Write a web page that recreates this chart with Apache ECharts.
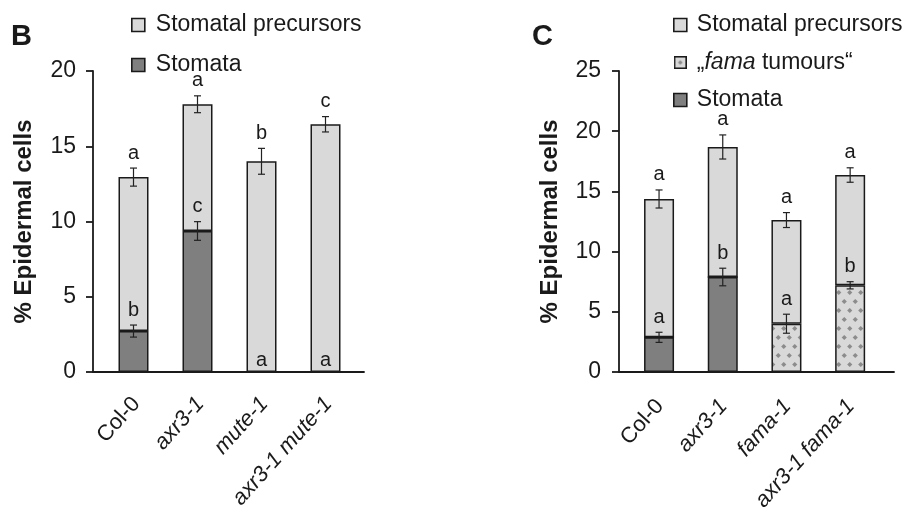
<!DOCTYPE html>
<html>
<head>
<meta charset="utf-8">
<script src="https://cdn.jsdelivr.net/npm/echarts@6/dist/echarts.min.js"></script>
<style>
html,body{margin:0;padding:0;background:#fff;}
#chart{width:914px;height:515px;}
</style>
</head>
<body>
<div id="chart"></div>
<script>
// ---------- data (panel B) ----------
const leftCats = ['Col-0', 'axr3-1', 'mute-1', 'axr3-1 mute-1'];
const leftItalic = [false, true, true, true];
const leftStomata = [2.72, 9.37, 0, 0];
const leftPrecursors = [10.23, 8.42, 14.0, 16.46];
const leftStomataErr = [0.4, 0.62, 0, 0];
const leftTotalErr = [0.6, 0.56, 0.86, 0.51];
const leftStomataLetters = ['b', 'c', 'a', 'a'];
const leftTotalLetters = ['a', 'a', 'b', 'c'];
const leftTicks = [0, 20, 5];

// ---------- data (panel C) ----------
const rightCats = ['Col-0', 'axr3-1', 'fama-1', 'axr3-1 fama-1'];
const rightItalic = [false, true, true, true];
const rightStomata = [2.88, 7.89, 0, 0];
const rightTumours = [0, 0, 4.01, 7.2];
const rightPrecursors = [11.49, 10.8, 8.61, 9.16];
const rightBottomErr = [0.42, 0.73, 0.79, 0.3];
const rightTotalErr = [0.75, 1.0, 0.62, 0.6];
const rightBottomLetters = ['a', 'b', 'a', 'b'];
const rightTotalLetters = ['a', 'a', 'a', 'a'];
const rightTicks = [0, 25, 5];

const seriesNames = {
  prec: 'Stomatal precursors',
  tum: '\u201Efama tumours\u201C',
  sto: 'Stomata'
};

// ---------- styles ----------
const FONT = 'Liberation Sans';
const INK = '#1a1a1a';
const LIGHT = '#d9d9d9';
const DARK = '#7f7f7f';

function makePattern() {
  const c = document.createElement('canvas');
  c.width = 11; c.height = 18;
  const g = c.getContext('2d');
  g.fillStyle = LIGHT; g.fillRect(0, 0, 11, 18);
  g.fillStyle = '#8c8c8c';
  const dia = (x, y, r) => { g.beginPath(); g.moveTo(x, y - r); g.lineTo(x + r, y); g.lineTo(x, y + r); g.lineTo(x - r, y); g.closePath(); g.fill(); };
  dia(2.75, 4.5, 2.6); dia(8.25, 13.5, 2.6);
  return c;
}
function makeLegendIcon() {
  const c = document.createElement('canvas');
  c.width = 14; c.height = 14;
  const g = c.getContext('2d');
  g.fillStyle = LIGHT; g.fillRect(0, 0, 14, 14);
  g.strokeStyle = INK; g.lineWidth = 1.6; g.strokeRect(0.8, 0.8, 12.4, 12.4);
  g.fillStyle = '#8c8c8c';
  g.beginPath(); g.moveTo(7, 4.4); g.lineTo(9.6, 7); g.lineTo(7, 9.6); g.lineTo(4.4, 7); g.closePath(); g.fill();
  return c.toDataURL();
}
const pattern = makePattern();

const catRich = {
  n: { fontFamily: FONT, fontSize: 22, color: INK },
  i: { fontFamily: FONT, fontSize: 22, color: INK, fontStyle: 'italic' }
};
function catFormatter(italicArr, cats) {
  return function (v) {
    const idx = cats.indexOf(v);
    return italicArr[idx] ? '{i|' + v + '}' : '{n|' + v + '}';
  };
}

const axisLineStyle = { color: INK, width: 1.8 };

function frameX(gi) {
  return { gridIndex: gi, type: 'value', min: 0, max: 1,
    axisLine: { show: true, onZero: false, lineStyle: axisLineStyle },
    axisTick: { show: false }, axisLabel: { show: false }, splitLine: { show: false } };
}
function frameY(gi, ticks, labelMargin) {
  return { gridIndex: gi, type: 'value', min: ticks[0], max: ticks[1], interval: ticks[2],
    axisLine: { show: true, onZero: false, lineStyle: axisLineStyle },
    axisTick: { show: true, inside: false, length: 7, lineStyle: axisLineStyle },
    axisLabel: { fontFamily: FONT, fontSize: 23, color: INK, margin: labelMargin },
    splitLine: { show: false },
    name: '% Epidermal cells', nameLocation: 'middle', nameRotate: 90, nameGap: 57,
    nameTextStyle: { fontFamily: FONT, fontSize: 24, fontWeight: 'bold', color: INK } };
}
function dataX(gi, cats, italicArr, pad) {
  return { gridIndex: gi, type: 'category', data: cats,
    axisLine: { show: false }, axisTick: { show: false }, splitLine: { show: false },
    axisLabel: { rotate: 48, align: 'right', verticalAlign: 'top', margin: 15, interval: 0,
      padding: [0, pad, 0, 0],
      formatter: catFormatter(italicArr, cats), rich: catRich, fontFamily: FONT, fontSize: 22, color: INK } };
}
function dataY(gi, ticks) {
  return { gridIndex: gi, type: 'value', min: ticks[0], max: ticks[1], interval: ticks[2], show: false, splitLine: { show: false } };
}

function barSeries(name, xi, yi, values, color, stack) {
  return { name: name, type: 'bar', xAxisIndex: xi, yAxisIndex: yi, stack: stack, data: values,
    barWidth: 30, itemStyle: { color: color, borderColor: INK, borderWidth: 1.5 }, emphasis: { disabled: true } };
}

// error bars + significance letters
function errSeries(xi, yi, bases, errs, letters) {
  const data = bases.map((b, i) => [i, b, errs[i]]);
  return { type: 'custom', xAxisIndex: xi, yAxisIndex: yi, data: data, z: 10, silent: true,
    renderItem: function (params, api) {
      const i = api.value(0), v = api.value(1), e = api.value(2);
      const c = api.coord([i, v]);
      const hi = api.coord([i, v + e]);
      const lo = api.coord([i, v - e]);
      const children = [];
      const st = { stroke: '#222', lineWidth: 1.2 };
      if (e > 0) {
        children.push({ type: 'line', shape: { x1: c[0], y1: hi[1], x2: c[0], y2: lo[1] }, style: st });
        children.push({ type: 'line', shape: { x1: c[0] - 3.5, y1: hi[1], x2: c[0] + 3.5, y2: hi[1] }, style: st });
        children.push({ type: 'line', shape: { x1: c[0] - 3.5, y1: lo[1], x2: c[0] + 3.5, y2: lo[1] }, style: st });
      }
      const off = e > 0 ? 5 : 2;
      children.push({ type: 'text', style: { x: c[0], y: hi[1] - off, text: letters[params.dataIndex],
        fontFamily: FONT, fontSize: 20, fill: INK, align: 'center', verticalAlign: 'bottom' } });
      return { type: 'group', children: children };
    } };
}

const leftTotals = leftStomata.map((s, i) => s + leftPrecursors[i]);
const rightBottoms = rightStomata.map((s, i) => s + rightTumours[i]);
const rightTotals = rightBottoms.map((b, i) => b + rightPrecursors[i]);

const option = {
  animation: false,
  backgroundColor: '#fff',
  textStyle: { fontFamily: FONT },
  title: [
    { text: 'B', left: 11, top: 22, padding: 0, textStyle: { fontFamily: FONT, fontSize: 29, fontWeight: 'bold', color: INK } },
    { text: 'C', left: 532, top: 22, padding: 0, textStyle: { fontFamily: FONT, fontSize: 29, fontWeight: 'bold', color: INK } }
  ],
  legend: [
    { orient: 'vertical', left: 126, top: 8, itemWidth: 13, itemHeight: 13, itemGap: 16,
      icon: 'rect', itemStyle: { borderColor: INK, borderWidth: 1.6 },
      textStyle: { fontFamily: FONT, fontSize: 23, color: INK, lineHeight: 24, padding: [0, 0, 0, 6] },
      data: [seriesNames.prec, seriesNames.sto], selectedMode: false },
    { orient: 'vertical', left: 668, top: 8, itemWidth: 13, itemHeight: 13, itemGap: 13.5,
      icon: 'rect', itemStyle: { borderColor: INK, borderWidth: 1.6 },
      textStyle: { fontFamily: FONT, fontSize: 23, color: INK, lineHeight: 24, padding: [0, 0, 0, 5],
        rich: { i: { fontFamily: FONT, fontSize: 23, color: INK, fontStyle: 'italic' } } },
      formatter: function (name) {
        if (name === seriesNames.tum) return '\u201E{i|fama} tumours\u201C';
        return name;
      },
      data: [seriesNames.prec, { name: seriesNames.tum, icon: 'image://' + makeLegendIcon() }, seriesNames.sto],
      selectedMode: false }
  ],
  grid: [
    { left: 93, top: 71, width: 271, height: 301 },
    { left: 101.5, top: 71, width: 256, height: 301 },
    { left: 619, top: 71, width: 275, height: 301 },
    { left: 627.2, top: 71, width: 254.8, height: 301 }
  ],
  xAxis: [frameX(0), dataX(1, leftCats, leftItalic, 8), frameX(2), dataX(3, rightCats, rightItalic, 11)],
  yAxis: [frameY(0, leftTicks, 17), dataY(1, leftTicks), frameY(2, rightTicks, 18), dataY(3, rightTicks)],
  series: [
    // panel B
    barSeries(seriesNames.sto, 1, 1, leftStomata, DARK, 'B'),
    barSeries(seriesNames.prec, 1, 1, leftPrecursors, LIGHT, 'B'),
    errSeries(1, 1, leftStomata, leftStomataErr, leftStomataLetters),
    errSeries(1, 1, leftTotals, leftTotalErr, leftTotalLetters),
    // panel C
    barSeries(seriesNames.sto, 3, 3, rightStomata, DARK, 'C'),
    barSeries(seriesNames.tum, 3, 3, rightTumours, { image: pattern, repeat: 'repeat' }, 'C'),
    barSeries(seriesNames.prec, 3, 3, rightPrecursors, LIGHT, 'C'),
    errSeries(3, 3, rightBottoms, rightBottomErr, rightBottomLetters),
    errSeries(3, 3, rightTotals, rightTotalErr, rightTotalLetters)
  ]
};

const chart = echarts.init(document.getElementById('chart'), null, { renderer: 'canvas' });
chart.setOption(option);
</script>
</body>
</html>
